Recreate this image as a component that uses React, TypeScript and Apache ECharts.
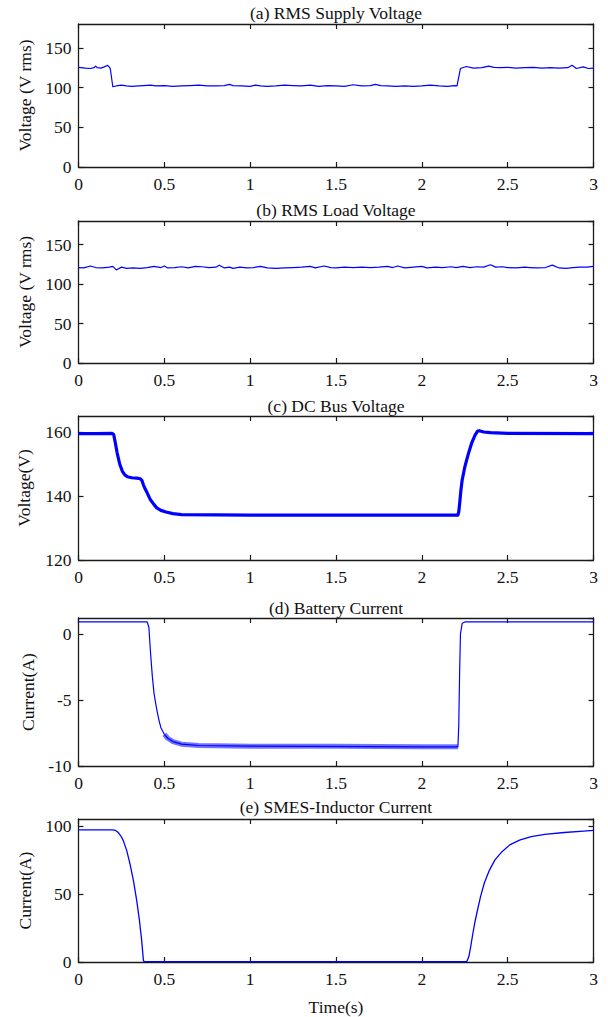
import React, { useEffect, useRef } from 'react';
import * as echarts from 'echarts';

// (a) RMS supply voltage
const supplyT = [0, 0.04, 0.07, 0.09, 0.1, 0.11, 0.13, 0.15, 0.17, 0.185, 0.2, 0.22, 0.25, 0.28, 0.31, 0.35, 0.38, 0.42, 0.45, 0.5, 0.55, 0.6, 0.65, 0.7, 0.75, 0.8, 0.85, 0.88, 0.9, 0.95, 1.0, 1.03, 1.06, 1.1, 1.15, 1.2, 1.25, 1.3, 1.35, 1.4, 1.45, 1.5, 1.55, 1.6, 1.65, 1.7, 1.73, 1.76, 1.8, 1.85, 1.9, 1.95, 2.0, 2.05, 2.1, 2.15, 2.19, 2.205, 2.225, 2.26, 2.3, 2.35, 2.39, 2.42, 2.46, 2.5, 2.55, 2.6, 2.65, 2.7, 2.75, 2.8, 2.85, 2.875, 2.9, 2.94, 2.97, 3.0];
const supplyV = [125.5, 124.5, 124, 125, 127, 125, 124.5, 126, 128, 124, 101, 102, 103, 102, 101.5, 102, 102.5, 103, 102, 102.5, 101.5, 102, 102.5, 103, 102, 102, 102.5, 104, 102.5, 102, 101.5, 103, 102, 101.5, 102, 103, 102.5, 102, 103, 101.5, 102.5, 102, 101.5, 103.5, 102, 102.5, 104, 102.5, 102, 101.5, 102, 101.5, 102, 103, 102, 101.5, 102.5, 102, 124, 126.5, 124.5, 125, 127, 125.5, 125, 125.5, 124.5, 125, 125.5, 124.5, 125, 124.5, 125, 128, 124, 126, 124, 124.5];

// (b) RMS load voltage
const loadT = [0, 0.03, 0.07, 0.1, 0.14, 0.18, 0.2, 0.22, 0.25, 0.28, 0.32, 0.36, 0.4, 0.44, 0.48, 0.5, 0.52, 0.56, 0.6, 0.64, 0.68, 0.72, 0.76, 0.8, 0.82, 0.85, 0.88, 0.9, 0.94, 0.98, 1.02, 1.06, 1.1, 1.15, 1.2, 1.25, 1.3, 1.35, 1.38, 1.43, 1.47, 1.5, 1.55, 1.6, 1.65, 1.7, 1.75, 1.8, 1.83, 1.86, 1.9, 1.95, 2.0, 2.03, 2.08, 2.12, 2.17, 2.2, 2.24, 2.28, 2.32, 2.36, 2.4, 2.43, 2.47, 2.5, 2.55, 2.6, 2.63, 2.67, 2.72, 2.76, 2.8, 2.84, 2.88, 2.92, 2.96, 3.0];
const loadV = [121, 120.5, 123, 121, 120.5, 121.5, 122.5, 118, 121.5, 120, 120.5, 120, 121, 122.5, 121, 123, 120.5, 121, 122, 120.5, 122.5, 122, 121, 121.5, 124, 120.5, 121.5, 120, 121.5, 120.5, 121, 122.5, 120.5, 120, 120.5, 121, 121.5, 122.5, 120.5, 123, 121, 120.5, 121.5, 121, 121.5, 121, 121.5, 122.5, 121, 123, 120.5, 121.5, 122.5, 120.5, 121.5, 121, 122, 121, 122.5, 121, 122, 121.5, 124.5, 121.5, 122, 121, 120.5, 121.5, 121, 120.5, 121, 124, 120.5, 120, 121, 121.5, 121.5, 122.5];

// (c) DC bus voltage
const dcT = [0, 0.1, 0.195, 0.205, 0.215, 0.225, 0.24, 0.255, 0.27, 0.285, 0.31, 0.34, 0.36, 0.37, 0.378, 0.39, 0.4, 0.417, 0.44, 0.456, 0.48, 0.51, 0.55, 0.6, 1.0, 1.5, 2.0, 2.21, 2.215, 2.22, 2.228, 2.235, 2.25, 2.27, 2.29, 2.31, 2.325, 2.335, 2.36, 2.4, 2.5, 3.0];
const dcV = [159.5, 159.5, 159.6, 159.2, 156.5, 153.5, 150, 147.8, 146.6, 146, 145.7, 145.6, 145.4, 144.8, 143.5, 142, 141, 139, 137.3, 136.3, 135.5, 135, 134.5, 134.2, 134, 134, 134, 134, 135, 137.5, 142, 145, 149, 153, 156.5, 159, 160.3, 160.4, 160, 159.8, 159.6, 159.5];

// (d) Battery current
const battT = [0, 0.4, 0.41, 0.42, 0.43, 0.44, 0.45, 0.46, 0.47, 0.48, 0.5, 0.52, 0.55, 0.6, 0.7, 1.0, 2.0, 2.21, 2.215, 2.22, 2.225, 2.235, 2.25, 3.0];
const battV = [0.9, 0.9, 0.5, -1.5, -3.2, -4.5, -5.3, -6.0, -6.6, -7.1, -7.6, -7.9, -8.15, -8.35, -8.45, -8.5, -8.55, -8.55, -7, -3, 0, 0.8, 0.9, 0.9];
const battRippleT = [0.5, 0.52, 0.55, 0.6, 0.7, 1.0, 1.5, 2.0, 2.21];
const battRippleV = [-7.6, -7.9, -8.15, -8.35, -8.45, -8.5, -8.5, -8.55, -8.55];

// (e) SMES-inductor current
const smesT = [0, 0.1, 0.2, 0.207, 0.215, 0.225, 0.235, 0.247, 0.261, 0.281, 0.3, 0.32, 0.339, 0.355, 0.368, 0.378, 0.382, 1.0, 2.0, 2.262, 2.274, 2.285, 2.296, 2.308, 2.324, 2.342, 2.364, 2.394, 2.426, 2.467, 2.512, 2.569, 2.637, 2.716, 2.829, 2.943, 3.0];
const smesV = [97, 97, 97, 96.9, 96.6, 95.8, 94.5, 92.5, 89.1, 81.8, 72, 59.8, 45.2, 30.5, 15.9, 1.2, 0.3, 0.3, 0.3, 0.3, 4, 11.5, 20, 28.5, 38, 48, 58, 67.5, 75, 81, 86, 89.5, 92, 93.7, 95.1, 96.1, 96.6];

const FONT = '"Liberation Serif", "Times New Roman", serif';
const INK = '#1a1a1a';
const BLUE = '#0000ff';

const pair = (t: number[], v: number[]) => t.map((x, i) => [x, v[i]]);

export default function App() {
  const ref = useRef<HTMLDivElement>(null);
  useEffect(() => {
    const chart = echarts.init(ref.current!, null, { renderer: 'svg' });
    const left = 78.5;
    const width = 515;
    const panels = [
      { title: '(a) RMS Supply Voltage', yName: 'Voltage (V rms)', min: 0, max: 180, interval: 50, top: 24, height: 143, titleY: 13, nameGap: 44,
        lines: [{ data: pair(supplyT, supplyV), w: 1.2, o: 1 }] },
      { title: '(b) RMS Load Voltage', yName: 'Voltage (V rms)', min: 0, max: 180, interval: 50, top: 221, height: 142, titleY: 210, nameGap: 44,
        lines: [{ data: pair(loadT, loadV), w: 1.2, o: 1 }] },
      { title: '(c) DC Bus Voltage', yName: 'Voltage(V)', min: 120, max: 165, interval: 20, top: 416, height: 144, titleY: 406, nameGap: 46,
        lines: [{ data: pair(dcT, dcV), w: 3.2, o: 1 }] },
      { title: '(d) Battery Current', yName: 'Current(A)', min: -10, max: 1.2, interval: 5, top: 618, height: 148, titleY: 608, nameGap: 37,
        lines: [{ data: pair(battT, battV), w: 1.2, o: 1 }, { data: pair(battRippleT, battRippleV), w: 5, o: 0.55 }] },
      { title: '(e) SMES-Inductor Current', yName: 'Current(A)', min: 0, max: 105, interval: 50, top: 819, height: 143, titleY: 807, nameGap: 41,
        lines: [{ data: pair(smesT, smesV), w: 1.3, o: 1 }] },
    ];

    const grid: any[] = [];
    const xAxis: any[] = [];
    const yAxis: any[] = [];
    const series: any[] = [];
    const graphic: any[] = [];
    const axisLine = { show: true, onZero: false, lineStyle: { color: INK, width: 1.3 } };
    const axisTick = { show: true, inside: true, length: 5, lineStyle: { color: INK, width: 1.2 } };
    const label = { color: '#111', fontFamily: FONT, fontSize: 17.5 };

    panels.forEach((p, i) => {
      grid.push({ left, top: p.top, width, height: p.height, containLabel: false });
      const xBase = { type: 'value', gridIndex: i, min: 0, max: 3, interval: 0.5, axisLine, axisTick, splitLine: { show: false } };
      xAxis.push({ ...xBase, position: 'bottom', axisLabel: { ...label, margin: 8 },
        ...(i === 4 ? { name: 'Time(s)', nameLocation: 'middle', nameGap: 36, nameTextStyle: { ...label } } : {}) });
      xAxis.push({ ...xBase, position: 'top', axisLabel: { show: false } });
      const yBase = { type: 'value', gridIndex: i, min: p.min, max: p.max, interval: p.interval, axisLine, axisTick, splitLine: { show: false } };
      yAxis.push({ ...yBase, position: 'left', axisLabel: { ...label, margin: 7, showMaxLabel: false },
        name: p.yName, nameLocation: 'middle', nameGap: p.nameGap, nameTextStyle: { ...label } });
      yAxis.push({ ...yBase, position: 'right', axisLabel: { show: false } });
      p.lines.forEach((l) => {
        series.push({ type: 'line', xAxisIndex: 2 * i, yAxisIndex: 2 * i, data: l.data, showSymbol: false, symbol: 'none',
          smooth: false, lineStyle: { color: BLUE, width: l.w, opacity: l.o, join: 'round' }, itemStyle: { color: BLUE }, silent: true });
      });
      graphic.push({ type: 'text', x: left + width / 2, y: p.titleY,
        style: { text: p.title, align: 'center', verticalAlign: 'middle', fontFamily: FONT, fontSize: 17.5, fill: '#111' } });
    });

    chart.setOption({ animation: false, backgroundColor: '#fff', grid, xAxis, yAxis, series, graphic });
    return () => chart.dispose();
  }, []);
  return <div ref={ref} style={{ position: 'fixed', left: 0, top: 0, width: 608, height: 1017, background: '#fff' }} />;
}
